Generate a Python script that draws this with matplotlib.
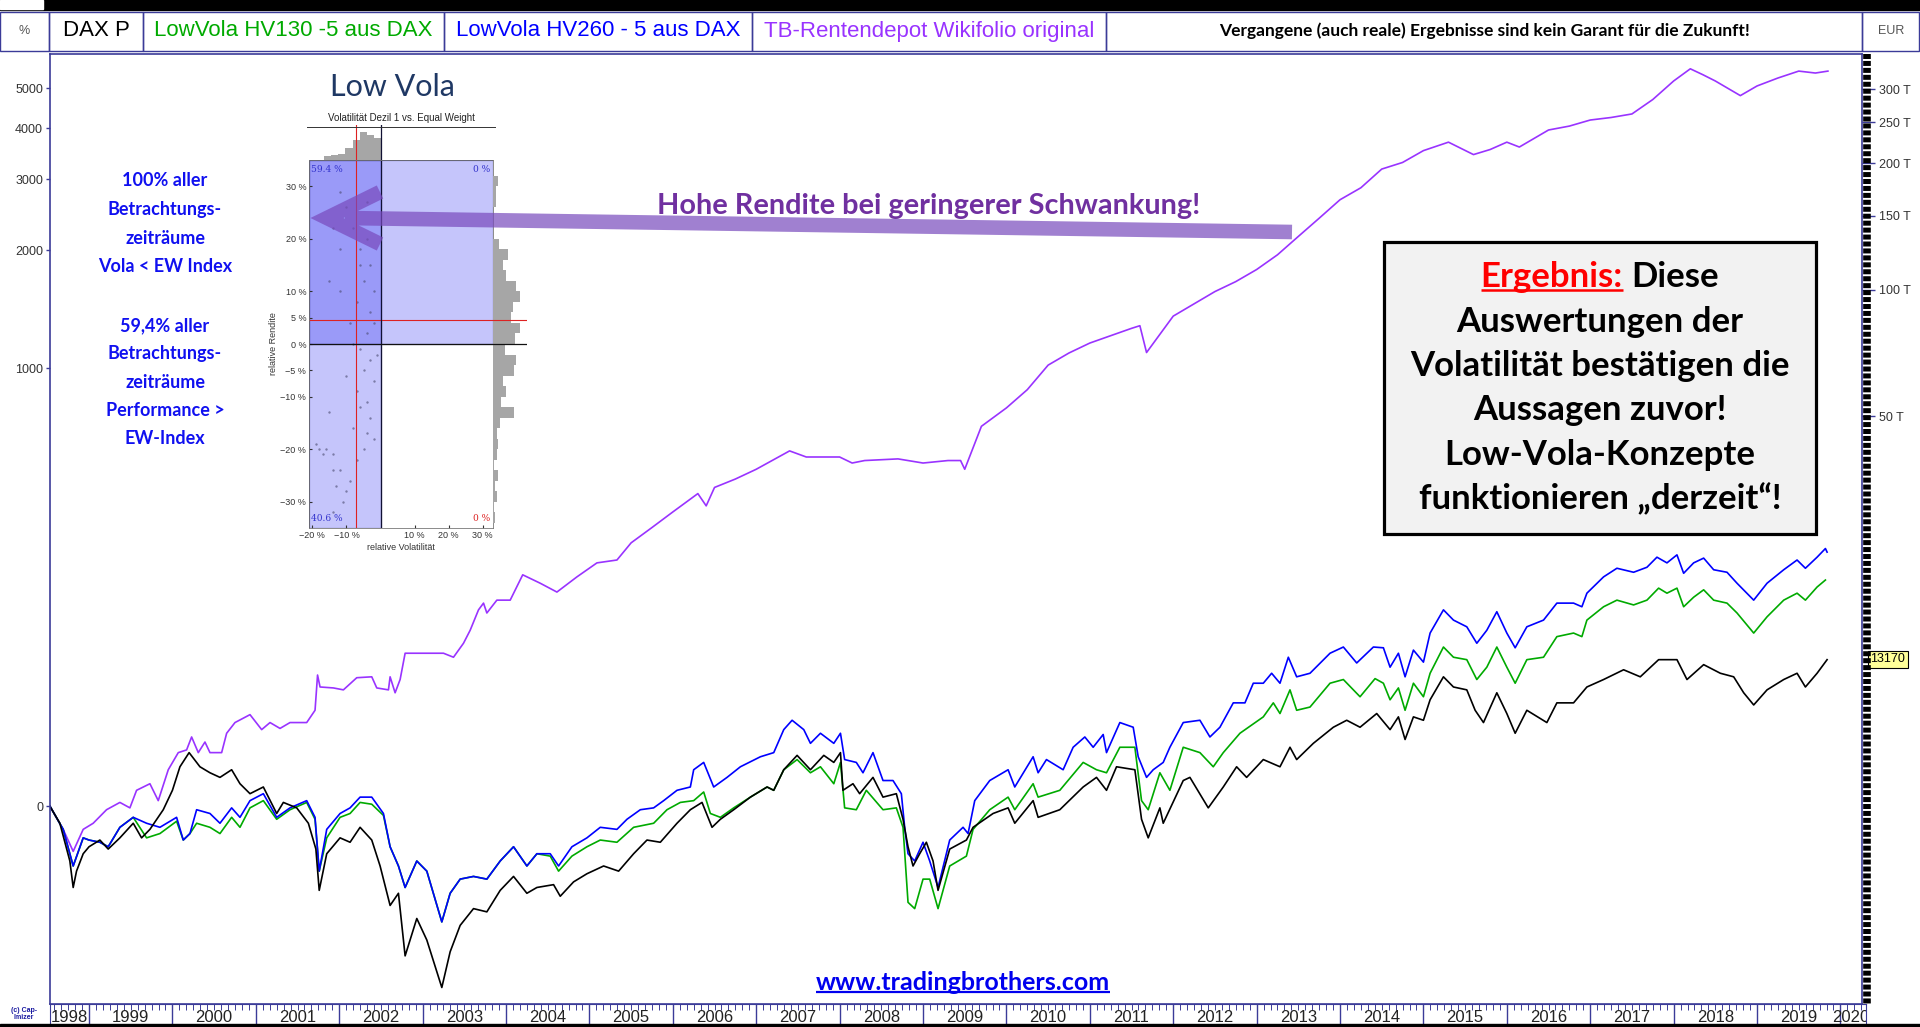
import matplotlib
matplotlib.use("Agg")
import matplotlib.pyplot as plt
import numpy as np
from matplotlib import font_manager
from matplotlib.patches import Rectangle, PathPatch
from matplotlib.path import Path
from matplotlib.lines import Line2D
from matplotlib.ticker import NullLocator
from matplotlib.transforms import blended_transform_factory

# ---------------- data: percent change since start (left "%" axis) ----------------
dax_points = [
    (1998.53, 0), (1998.65, -9), (1998.77, -26), (1998.81, -36), (1998.85, -30), (1998.93, -23),
    (1999.00, -20), (1999.13, -17), (1999.23, -21), (1999.37, -16), (1999.53, -9), (1999.63, -16),
    (1999.73, -12), (1999.89, -2), (2000.00, 9), (2000.09, 24), (2000.20, 34), (2000.33, 24),
    (2000.45, 20), (2000.57, 17), (2000.71, 22), (2000.81, 13), (2000.93, 7), (2001.09, 11),
    (2001.25, -4), (2001.33, 2), (2001.49, -1), (2001.63, -9), (2001.72, -21), (2001.76, -37),
    (2001.85, -23), (2002.01, -16), (2002.13, -18), (2002.25, -11), (2002.39, -17), (2002.49, -28),
    (2002.61, -42), (2002.71, -38), (2002.79, -56), (2002.93, -46), (2003.05, -52), (2003.23, -63),
    (2003.33, -55), (2003.45, -48), (2003.61, -43), (2003.77, -44), (2003.93, -37), (2004.09, -32),
    (2004.25, -38), (2004.37, -36), (2004.57, -35), (2004.65, -39), (2004.81, -34), (2004.97, -31),
    (2005.17, -28), (2005.35, -30), (2005.53, -23), (2005.69, -17), (2005.85, -18), (2006.05, -9),
    (2006.21, -2), (2006.35, 2), (2006.47, -11), (2006.57, -7), (2006.73, -2), (2006.93, 5),
    (2007.13, 11), (2007.21, 9), (2007.33, 22), (2007.49, 32), (2007.65, 22), (2007.81, 32),
    (2007.93, 27), (2008.01, 34), (2008.04, 9), (2008.16, 13), (2008.24, 7), (2008.40, 17),
    (2008.52, 5), (2008.68, 7), (2008.76, -7), (2008.82, -20), (2008.88, -28), (2008.96, -23),
    (2009.04, -18), (2009.12, -26), (2009.18, -37), (2009.32, -21), (2009.52, -17), (2009.60, -11),
    (2009.84, -4), (2010.02, -1), (2010.10, -9), (2010.32, 3), (2010.38, -6), (2010.64, -2),
    (2010.92, 11), (2011.08, 17), (2011.20, 9), (2011.32, 24), (2011.54, 22), (2011.62, -7),
    (2011.70, -16), (2011.84, -1), (2011.88, -9), (2012.12, 15), (2012.20, 17), (2012.42, -1),
    (2012.60, 11), (2012.76, 24), (2012.88, 17), (2013.08, 29), (2013.28, 24), (2013.40, 38),
    (2013.48, 29), (2013.68, 41), (2013.92, 54), (2014.08, 60), (2014.24, 54), (2014.44, 66),
    (2014.60, 52), (2014.70, 63), (2014.78, 44), (2014.88, 63), (2015.00, 60), (2015.08, 79),
    (2015.24, 103), (2015.36, 92), (2015.52, 89), (2015.62, 69), (2015.72, 58), (2015.88, 86),
    (2016.00, 66), (2016.10, 49), (2016.24, 69), (2016.48, 58), (2016.60, 76), (2016.80, 76),
    (2016.96, 92), (2017.16, 100), (2017.40, 111), (2017.60, 103), (2017.82, 123), (2018.04, 123),
    (2018.16, 100), (2018.36, 117), (2018.56, 107), (2018.72, 103), (2018.84, 86), (2018.96, 74),
    (2019.12, 89), (2019.32, 100), (2019.48, 107), (2019.58, 92), (2019.72, 107), (2019.84, 123),
]

hv260_points = [
    (1998.53, 0), (1998.69, -12), (1998.81, -28), (1998.93, -16), (1999.00, -17), (1999.13, -18),
    (1999.23, -20), (1999.37, -11), (1999.53, -6), (1999.69, -9), (1999.85, -11), (2000.05, -6),
    (2000.13, -17), (2000.21, -14), (2000.29, -2), (2000.45, -4), (2000.57, -9), (2000.71, -1),
    (2000.81, -6), (2000.93, 3), (2001.09, 7), (2001.25, -6), (2001.41, -1), (2001.61, 3),
    (2001.71, -6), (2001.76, -30), (2001.85, -12), (2002.01, -4), (2002.13, -1), (2002.25, 5),
    (2002.39, 5), (2002.53, -4), (2002.61, -20), (2002.71, -28), (2002.79, -36), (2002.93, -26),
    (2003.05, -30), (2003.23, -47), (2003.33, -38), (2003.45, -33), (2003.61, -32), (2003.77, -33),
    (2003.93, -26), (2004.09, -20), (2004.25, -28), (2004.37, -23), (2004.53, -23), (2004.63, -28),
    (2004.79, -20), (2004.97, -16), (2005.13, -11), (2005.33, -12), (2005.45, -7), (2005.61, -2),
    (2005.77, -1), (2005.89, 3), (2006.05, 9), (2006.21, 11), (2006.25, 22), (2006.37, 27),
    (2006.49, 11), (2006.65, 17), (2006.81, 24), (2007.05, 31), (2007.21, 34), (2007.33, 52),
    (2007.43, 60), (2007.57, 52), (2007.65, 41), (2007.77, 49), (2007.93, 41), (2008.01, 49),
    (2008.06, 29), (2008.20, 27), (2008.28, 20), (2008.40, 34), (2008.52, 15), (2008.64, 15),
    (2008.74, 7), (2008.78, -11), (2008.82, -23), (2008.90, -26), (2009.00, -18), (2009.08, -26),
    (2009.18, -36), (2009.32, -17), (2009.48, -11), (2009.54, -14), (2009.62, 3), (2009.80, 15),
    (2010.02, 22), (2010.10, 11), (2010.32, 31), (2010.38, 20), (2010.48, 29), (2010.68, 22),
    (2010.80, 38), (2010.94, 46), (2011.04, 38), (2011.16, 48), (2011.20, 34), (2011.36, 58),
    (2011.52, 54), (2011.58, 31), (2011.68, 17), (2011.76, 22), (2011.88, 27), (2011.96, 38),
    (2012.12, 58), (2012.32, 60), (2012.44, 46), (2012.56, 54), (2012.72, 76), (2012.86, 76),
    (2012.96, 96), (2013.08, 96), (2013.18, 107), (2013.28, 96), (2013.38, 126), (2013.48, 103),
    (2013.64, 107), (2013.88, 131), (2014.04, 139), (2014.20, 119), (2014.40, 139), (2014.52, 138),
    (2014.60, 114), (2014.70, 131), (2014.78, 103), (2014.88, 135), (2015.00, 120), (2015.08, 158),
    (2015.24, 193), (2015.36, 177), (2015.52, 167), (2015.64, 144), (2015.76, 162), (2015.88, 190),
    (2016.00, 158), (2016.10, 138), (2016.24, 167), (2016.44, 177), (2016.60, 204), (2016.80, 204),
    (2016.90, 198), (2016.96, 221), (2017.16, 251), (2017.32, 268), (2017.52, 260), (2017.68, 270),
    (2017.80, 291), (2017.92, 279), (2018.04, 296), (2018.12, 258), (2018.24, 279), (2018.36, 289),
    (2018.48, 265), (2018.64, 260), (2018.76, 239), (2018.96, 209), (2019.12, 239), (2019.32, 265),
    (2019.48, 285), (2019.58, 268), (2019.72, 291), (2019.82, 310), (2019.84, 302),
]

hv130_points = [
    (1998.53, 0), (1998.69, -12), (1998.81, -28), (1998.93, -16), (1999.00, -17), (1999.13, -18),
    (1999.23, -20), (1999.37, -11), (1999.53, -6), (1999.69, -16), (1999.85, -14), (2000.05, -8),
    (2000.13, -17), (2000.21, -14), (2000.29, -9), (2000.45, -11), (2000.57, -14), (2000.71, -6),
    (2000.81, -11), (2000.93, -1), (2001.09, 3), (2001.25, -7), (2001.41, -2), (2001.61, 2),
    (2001.71, -7), (2001.76, -30), (2001.85, -16), (2002.01, -6), (2002.13, -4), (2002.25, 2),
    (2002.39, 1), (2002.53, -5), (2002.61, -20), (2002.71, -28), (2002.79, -36), (2002.93, -26),
    (2003.05, -30), (2003.23, -47), (2003.33, -38), (2003.45, -33), (2003.61, -32), (2003.77, -33),
    (2003.93, -26), (2004.09, -20), (2004.25, -28), (2004.37, -23), (2004.53, -24), (2004.63, -30),
    (2004.79, -24), (2004.97, -20), (2005.13, -17), (2005.33, -18), (2005.53, -11), (2005.77, -9),
    (2005.93, -2), (2006.09, 2), (2006.25, 3), (2006.37, 8), (2006.45, -4), (2006.57, -6),
    (2006.73, -1), (2006.93, 5), (2007.13, 11), (2007.21, 9), (2007.33, 22), (2007.49, 29),
    (2007.65, 20), (2007.77, 24), (2007.93, 13), (2008.01, 27), (2008.06, -1), (2008.20, -2),
    (2008.32, 9), (2008.52, -2), (2008.68, -1), (2008.76, -11), (2008.82, -41), (2008.90, -43),
    (2009.00, -33), (2009.08, -33), (2009.18, -43), (2009.32, -28), (2009.52, -24), (2009.60, -12),
    (2009.80, -2), (2010.02, 5), (2010.10, -2), (2010.32, 13), (2010.38, 5), (2010.64, 9),
    (2010.92, 27), (2011.08, 22), (2011.20, 20), (2011.36, 38), (2011.54, 38), (2011.62, 3),
    (2011.70, -2), (2011.84, 20), (2011.96, 9), (2012.12, 38), (2012.32, 34), (2012.48, 24),
    (2012.60, 34), (2012.80, 49), (2013.08, 63), (2013.20, 76), (2013.28, 66), (2013.40, 89),
    (2013.48, 69), (2013.64, 72), (2013.88, 96), (2014.04, 100), (2014.24, 82), (2014.42, 101),
    (2014.52, 96), (2014.60, 79), (2014.70, 91), (2014.78, 69), (2014.88, 96), (2015.00, 82),
    (2015.08, 107), (2015.24, 139), (2015.36, 126), (2015.52, 123), (2015.64, 100), (2015.76, 114),
    (2015.88, 139), (2016.00, 114), (2016.10, 96), (2016.24, 123), (2016.44, 126), (2016.60, 153),
    (2016.80, 158), (2016.90, 153), (2016.96, 177), (2017.16, 198), (2017.32, 209), (2017.52, 201),
    (2017.68, 209), (2017.82, 230), (2017.92, 221), (2018.04, 230), (2018.12, 198), (2018.24, 214),
    (2018.36, 227), (2018.48, 209), (2018.64, 204), (2018.76, 188), (2018.96, 158), (2019.12, 182),
    (2019.32, 209), (2019.48, 221), (2019.58, 209), (2019.72, 232), (2019.82, 245),
]

tb_points = [
    (1998.53, 0), (1998.69, -12), (1998.81, -22), (1998.93, -12), (1999.05, -9), (1999.21, -2),
    (1999.37, 2), (1999.49, -1), (1999.57, 9), (1999.73, 13), (1999.83, 3), (1999.95, 22),
    (2000.07, 34), (2000.17, 36), (2000.23, 46), (2000.31, 34), (2000.39, 42), (2000.45, 34),
    (2000.59, 34), (2000.65, 49), (2000.75, 58), (2000.93, 65), (2001.07, 52), (2001.17, 58),
    (2001.29, 53), (2001.41, 58), (2001.61, 58), (2001.71, 69), (2001.74, 105), (2001.77, 92),
    (2001.93, 91), (2002.05, 89), (2002.21, 102), (2002.39, 103), (2002.45, 91), (2002.59, 89),
    (2002.61, 103), (2002.67, 86), (2002.73, 100), (2002.79, 131), (2003.25, 131), (2003.37, 126),
    (2003.49, 144), (2003.57, 162), (2003.67, 193), (2003.73, 204), (2003.77, 188), (2003.89, 209),
    (2004.05, 209), (2004.20, 255), (2004.41, 239), (2004.61, 223), (2004.85, 251), (2005.09, 279),
    (2005.33, 285), (2005.50, 323), (2005.75, 360), (2006.00, 401), (2006.30, 454), (2006.40, 418),
    (2006.50, 473), (2006.75, 500), (2007.00, 533), (2007.40, 600), (2007.60, 577), (2008.00, 577),
    (2008.15, 555), (2008.30, 564), (2008.70, 570), (2009.00, 555), (2009.30, 564), (2009.45, 564),
    (2009.50, 533), (2009.70, 701), (2010.00, 786), (2010.25, 879), (2010.50, 1020), (2010.75, 1097),
    (2011.00, 1164), (2011.25, 1216), (2011.50, 1270), (2011.60, 1290), (2011.68, 1100), (2012.00, 1365),
    (2012.25, 1467), (2012.50, 1576), (2012.75, 1670), (2013.00, 1791), (2013.25, 1950), (2013.50, 2167),
    (2013.75, 2405), (2014.00, 2672), (2014.25, 2860), (2014.50, 3179), (2014.75, 3300), (2015.00, 3528),
    (2015.30, 3700), (2015.60, 3450), (2015.80, 3550), (2016.00, 3700), (2016.15, 3600), (2016.50, 3962),
    (2016.75, 4050), (2017.00, 4190), (2017.25, 4250), (2017.50, 4335), (2017.75, 4700), (2018.00, 5213),
    (2018.20, 5580), (2018.35, 5400), (2018.50, 5213), (2018.80, 4804), (2019.00, 5070), (2019.25, 5300),
    (2019.50, 5509), (2019.70, 5450), (2019.85, 5509),
]

DAX_START = 5900      # DAX level (EUR) on the 0 % line
DAX_LAST = 13170
left_ticks = [0, 1000, 2000, 3000, 4000, 5000]
right_ticks = [50000, 100000, 150000, 200000, 250000, 300000]
right_labels = ["50 T", "100 T", "150 T", "200 T", "250 T", "300 T"]
years = list(range(1998, 2021))

series_names = ["DAX P", "LowVola HV130 -5 aus DAX", "LowVola HV260 - 5 aus DAX",
                "TB-Rentendepot Wikifolio original"]
series_colors = ["#000000", "#00AA00", "#0000FF", "#9933FF"]

# inset "Low Vola" (relative volatility vs relative return, in %)
top_hist_edges = [-16.6, -14.5, -12.4, -10.3, -8.2, -6.1, -4.0, -1.9, 0.2]
top_hist_counts = [4, 5, 6, 12, 20, 28, 25, 22]
right_hist_centers = [31, 29, 27, 25, 23, 21, 19, 17, 15, 13, 11, 9, 7, 5, 3, 1, -1, -3, -5, -7,
                      -9, -11, -13, -15, -17, -19, -21, -23, -25, -27, -29, -31, -33]
right_hist_counts = [5, 3, 3, 0, 0, 0, 6, 15, 10, 13, 23, 27, 20, 18, 27, 22, 12, 23, 21, 10,
                     13, 8, 21, 7, 4, 5, 4, 1, 5, 2, 4, 1, 2]
scatter_vol = [-19, -18, -17, -16, -14, -15, -14, -12, -13, -10, -11, -14, -9, -12, -10, -4, -8, -14,
               -12, -6, -3, -5, -2, -7, -3, -9, -4, -6, -3, -5, -2, -7, -4, -3, -6, -8, -4, -2,
               -12, -15, -6, -4, -2, -1, -8, -10, -5, -7]
scatter_ret = [-19, -20, -21, -20, -21, -13, -24, -24, -27, -28, -30, -32, -26, 29, 26, 27, 22, 22,
               18, 18, 15, 12, 10, 8, 6, 4, 2, -1, -3, -5, -7, -9, -11, -14, -12, -16, -17, -18,
               10, 12, 15, 20, 4, -2, 0, -6, -20, -22]
share_labels = ["59.4 %", "0 %", "40.6 %", "0 %"]

# ---------------- figure ----------------
W, H = 1920, 1027
NAVY = "#3B3B98"
plt.rcParams["font.family"] = ["Liberation Sans", "DejaVu Sans"]
plt.rcParams["lines.scale_dashes"] = False

names = {f.name for f in font_manager.fontManager.ttflist}
year_font = "Liberation Sans Narrow" if "Liberation Sans Narrow" in names else "Liberation Sans"


def frac(x0, y0, x1, y1):
    # pixel box (origin top-left) -> figure fractions
    return [x0 / W, 1 - y1 / H, (x1 - x0) / W, (y1 - y0) / H]


fig = plt.figure(figsize=(W / 100, H / 100), dpi=100)
fig.patch.set_facecolor("white")

PX_PER_YEAR = 83.4
X0 = 1998.532
X1 = X0 + 1812 / PX_PER_YEAR
Y_LO, Y_HI = 0.338, 61.6

ax = fig.add_axes(frac(50, 54, 1862, 1004))
ax.set_zorder(1)
for pts, c in zip([tb_points, hv130_points, hv260_points, dax_points],
                  [series_colors[3], series_colors[1], series_colors[2], series_colors[0]]):
    xs, ps = zip(*pts)
    ax.plot(xs, 1 + np.array(ps) / 100.0, color=c, lw=1.2)
ax.set_yscale("log")
ax.set_xlim(X0, X1)
ax.set_ylim(Y_LO, Y_HI)
ax.set_xticks([])
ax.set_yticks([1 + v / 100 for v in left_ticks], labels=[str(v) for v in left_ticks])
ax.yaxis.set_minor_locator(NullLocator())
ax.tick_params(axis="y", direction="out", length=3, width=1, color=NAVY,
               labelsize=9, labelcolor="#333333", pad=2)
for s in ax.spines.values():
    s.set_color(NAVY)
    s.set_linewidth(1.2)

ax2 = ax.twinx()
ax2.set_yscale("log")
ax2.set_ylim(Y_LO * DAX_START, Y_HI * DAX_START)
ax2.set_yticks(right_ticks, labels=right_labels)
ax2.yaxis.set_minor_locator(NullLocator())
ax2.tick_params(axis="y", direction="out", length=9, width=1, color=NAVY,
                labelsize=9, labelcolor="#333333", pad=3)
for s in ax2.spines.values():
    s.set_visible(False)
ax2.text(1.0045, DAX_LAST, str(DAX_LAST), transform=blended_transform_factory(ax2.transAxes, ax2.transData),
         ha="left", va="center", fontsize=9, color="black", clip_on=False,
         bbox=dict(boxstyle="square,pad=0.2", facecolor="#FFFF99", edgecolor="black", lw=0.8))

# ---------------- time band ----------------
band = fig.add_axes(frac(50, 1004, 1866, 1024))
band.set_xlim(X0, X0 + 1816 / PX_PER_YEAR)
band.set_ylim(0, 1)
band.set_xticks([])
band.set_yticks([])
for s in band.spines.values():
    s.set_color(NAVY)
band.spines["bottom"].set_visible(False)
yr = np.array(years)
band.vlines(yr[1:], 0, 1, color=NAVY, lw=1)
months = (yr[:, None] + np.arange(1, 12)[None, :] / 12.0).ravel()
band.vlines(months, 0.7, 1, color=NAVY, lw=0.7)
for y in years:
    c = (max(y, X0) + min(y + 1, X1)) / 2
    band.text(c, 0.34, str(y), ha="center", va="center", fontsize=12, family=year_font,
              color="#222222", clip_on=True)

# ---------------- inset "Low Vola" ----------------
ins = fig.add_axes(frac(309, 160, 493, 528), zorder=6)
ins.set_xlim(-21, 33)
ins.set_ylim(-35, 35)
shade = (0.1, 0.1, 0.95, 0.25)
ins.add_patch(Rectangle((-21, -35), 21, 70, facecolor=shade, edgecolor="#1a1a70", lw=0.8))
ins.add_patch(Rectangle((-21, 0), 54, 35, facecolor=shade, edgecolor="#1a1a70", lw=0.8))
ins.scatter(scatter_vol, scatter_ret, s=3, color="#4a4a70", alpha=0.6, lw=0)
ins.axvline(-7.1, color="#dd2222", lw=0.8)
ins.axhline(4.6, color="#dd2222", lw=0.8)
ins.axvline(0, color="#111133", lw=0.9)
ins.axhline(0, color="#111111", lw=0.9)
yt = [-30, -20, -10, -5, 0, 5, 10, 20, 30]
ins.set_yticks(yt, labels=[f"{v} %".replace("-", "\u2212") for v in yt])
xt = [-20, -10, 10, 20, 30]
ins.set_xticks(xt, labels=[f"{v} %".replace("-", "\u2212") for v in xt])
ins.tick_params(labelsize=6.5, length=2, direction="in", colors="#333333", pad=2)
ins.set_ylabel("relative Rendite", fontsize=6.5, color="#333333", labelpad=2)
ins.set_xlabel("relative Volatilität", fontsize=6.5, color="#333333", labelpad=2)
for s in ins.spines.values():
    s.set_color("#777777")
    s.set_linewidth(0.6)
ins.text(-20.3, 34, share_labels[0], ha="left", va="top", fontsize=6.5, family="DejaVu Serif", color="#3333cc")
ins.text(32.3, 34, share_labels[1], ha="right", va="top", fontsize=6.5, family="DejaVu Serif", color="#3333cc")
ins.text(-20.3, -34, share_labels[2], ha="left", va="bottom", fontsize=6.5, family="DejaVu Serif", color="#3333cc")
ins.text(32.3, -34, share_labels[3], ha="right", va="bottom", fontsize=6.5, family="DejaVu Serif", color="#dd2222")

hist_top = fig.add_axes(frac(309, 125, 493, 160), zorder=6)
hist_top.bar(top_hist_edges[:-1], top_hist_counts, width=np.diff(top_hist_edges), align="edge",
             color="#A6A6A6", edgecolor="none")
hist_top.set_xlim(-21, 33)
hist_top.set_ylim(0, 35)
hist_top.axvline(-7.1, color="#dd2222", lw=0.8)
hist_top.axvline(0, color="#111133", lw=0.9)
hist_top.axis("off")

hist_right = fig.add_axes(frac(493, 160, 527, 528), zorder=6)
hist_right.barh(right_hist_centers, right_hist_counts, height=2, color="#A6A6A6", edgecolor="none")
hist_right.set_ylim(-35, 35)
hist_right.set_xlim(0, 34)
hist_right.axhline(4.6, color="#dd2222", lw=0.8)
hist_right.axhline(0, color="#111111", lw=0.9)
hist_right.axis("off")

# ---------------- overlay (pixel coordinates) ----------------
top = fig.add_axes([0, 0, 1, 1], zorder=10)
top.set_xlim(0, W)
top.set_ylim(H, 0)
top.axis("off")
top.patch.set_visible(False)

top.add_patch(Rectangle((0, 0), W, 10, color="black"))
top.add_patch(Rectangle((0, 0), 43, 9, color="white"))
top.add_patch(Rectangle((0, 1024), W, 3, color="black"))

cells = [0, 49, 143, 444, 752, 1106, 1862, W - 1]
for a, b in zip(cells[:-1], cells[1:]):
    top.add_patch(Rectangle((a, 12), b - a, 39, fill=False, edgecolor=NAVY, lw=1))
top.text(24, 31, "%", ha="center", va="center", fontsize=9, color="#555555")
for (a, b), name, col in zip(zip(cells[1:5], cells[2:6]), series_names, series_colors):
    top.text((a + b) / 2, 31, name, ha="center", va="center", fontsize=16, color=col)
top.text(1484, 31, "Vergangene (auch reale) Ergebnisse sind kein Garant für die Zukunft!",
         ha="center", va="center", fontsize=12.5, family="Lato", weight="bold", color="black")
top.text(1891, 31, "EUR", ha="center", va="center", fontsize=9, color="#555555")

# right axis bar (black/white chain)
top.add_line(Line2D([1867, 1867], [54, 1004], color="black", lw=5.5, dashes=(3.6, 1.4)))

top.text(24, 1014, "(c) Cap-\nImizer", ha="center", va="center", fontsize=5, weight="bold",
         color="#1a1aa0", linespacing=0.9)

# inset heading
top.text(392, 87, "Low Vola", ha="center", va="center", fontsize=22, family="Lato", color="#1F3864")
top.text(401, 118, "Volatilität Dezil 1 vs. Equal Weight", ha="center", va="center", fontsize=7,
         color="#222222")
top.plot([307, 495], [127, 127], color="#333333", lw=0.7)

# left blue notes
blue_notes_1 = ["100% aller", "Betrachtungs-", "zeiträume", "Vola < EW Index"]
blue_notes_2 = ["59,4% aller", "Betrachtungs-", "zeiträume", "Performance >", "EW-Index"]
for i, s in enumerate(blue_notes_1):
    top.text(165, 180 + 29 * i, s, ha="center", va="center", fontsize=13, family="Lato",
             weight="bold", color="#1010F0")
for i, s in enumerate(blue_notes_2):
    top.text(165, 326 + 28 * i, s, ha="center", va="center", fontsize=13, family="Lato",
             weight="bold", color="#1010F0")

# purple arrow and message
arrow_verts = [(1292, 232), (345, 218), (380, 192), (327, 218), (380, 244)]
arrow_codes = [Path.MOVETO, Path.LINETO, Path.MOVETO, Path.LINETO, Path.LINETO]
top.add_patch(PathPatch(Path(arrow_verts, arrow_codes), fill=False,
                        edgecolor=(0.47, 0.29, 0.74, 0.7), lw=10.5, capstyle="butt", joinstyle="miter"))
top.text(929, 206, "Hohe Rendite bei geringerer Schwankung!", ha="center", va="center",
         fontsize=20.8, family="Lato", weight="bold", color="#7030A0")

# result box
top.add_patch(Rectangle((1384, 242), 432, 292, facecolor="#F2F2F2", edgecolor="black", lw=2.3))
box_font = dict(fontsize=25, family="Lato", weight="bold", va="center")
t_red = top.text(0, 277, "Ergebnis:", color="#FF0000", ha="left", **box_font)
t_blk = top.text(0, 277, "Diese", color="black", ha="left", **box_font)
box_lines = ["Auswertungen der", "Volatilität bestätigen die", "Aussagen zuvor!",
             "Low-Vola-Konzepte", "funktionieren \u201Ederzeit\u201C!"]
for i, s in enumerate(box_lines):
    top.text(1600, 322 + 44.2 * i, s, color="black", ha="center", **box_font)

t_url = top.text(963, 983, "www.tradingbrothers.com", ha="center", va="center", fontsize=18,
                 family="Lato", weight="bold", color="#0000EE")

fig.canvas.draw()
r = fig.canvas.get_renderer()
w1 = t_red.get_window_extent(r).width
w2 = t_blk.get_window_extent(r).width
gap = 0.25 * 25 * 100 / 72
x_start = 1600 - (w1 + gap + w2) / 2
t_red.set_x(x_start)
t_blk.set_x(x_start + w1 + gap)
fig.canvas.draw()


def underline(t, color, lw):
    bb = t.get_window_extent(r)
    y = H - bb.y0 - 0.1 * bb.height
    top.plot([bb.x0, bb.x1], [y, y], color=color, lw=lw, solid_capstyle="butt")


underline(t_red, "#FF0000", 1.8)
underline(t_url, "#0000EE", 1.6)

fig.savefig("out.png", dpi=100)
